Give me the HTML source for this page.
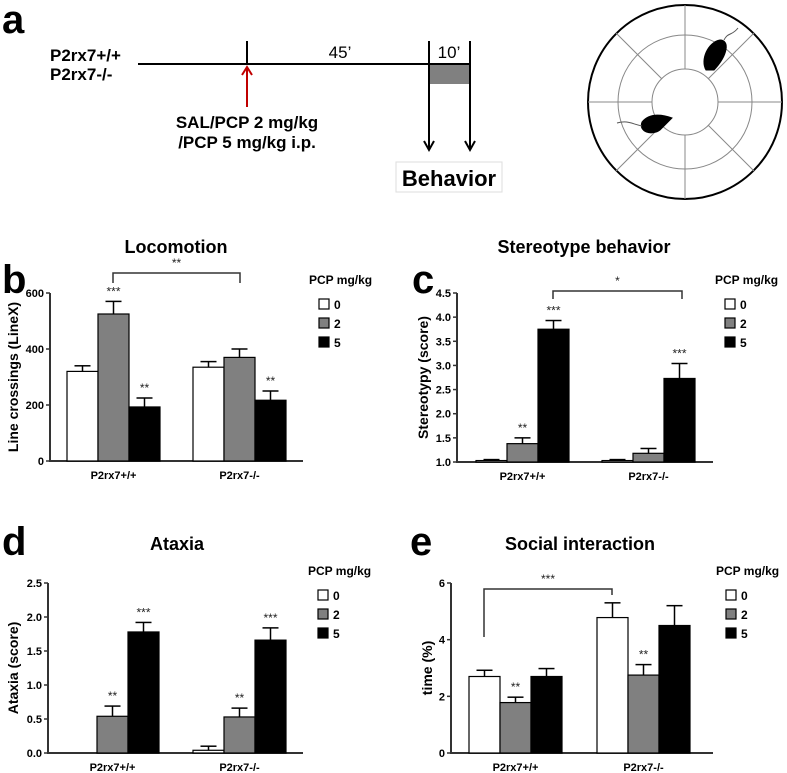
<!DOCTYPE html>
<html><head><meta charset="utf-8">
<style>
body{margin:0;background:#fff;}
svg{display:block;font-family:"Liberation Sans",Arial,sans-serif;}
</style></head>
<body>
<svg id="fig" width="787" height="773" viewBox="0 0 787 773" xmlns="http://www.w3.org/2000/svg">
<!-- Panel a -->
<g>
<text x="2" y="33" font-size="40" font-weight="bold">a</text>
<text x="50" y="61" font-size="17" font-weight="bold">P2rx7+/+</text>
<text x="50" y="80" font-size="17" font-weight="bold">P2rx7-/-</text>
<line x1="138" y1="64" x2="471" y2="64" stroke="#000" stroke-width="2"/>
<line x1="247" y1="41" x2="247" y2="64" stroke="#000" stroke-width="2"/>
<text x="340" y="58" font-size="17" text-anchor="middle">45’</text>
<rect x="429" y="65" width="41" height="19" fill="#808080"/>
<text x="449" y="58" font-size="17" text-anchor="middle">10’</text>
<line x1="429" y1="41" x2="429" y2="150" stroke="#000" stroke-width="2"/>
<path d="M424,141 L429,150 L434,141" fill="none" stroke="#000" stroke-width="2"/>
<line x1="470" y1="41" x2="470" y2="150" stroke="#000" stroke-width="2"/>
<path d="M465,141 L470,150 L475,141" fill="none" stroke="#000" stroke-width="2"/>
<line x1="247" y1="107" x2="247" y2="68" stroke="#c00000" stroke-width="2"/>
<path d="M242,75 L247,67 L252,75" fill="none" stroke="#c00000" stroke-width="2"/>
<text x="247" y="128" font-size="17" font-weight="bold" text-anchor="middle">SAL/PCP 2 mg/kg</text>
<text x="247" y="148" font-size="17" font-weight="bold" text-anchor="middle">/PCP 5 mg/kg i.p.</text>
<rect x="396" y="162" width="106" height="30" fill="#fff" stroke="#ddd"/>
<text x="449" y="186" font-size="22" font-weight="bold" text-anchor="middle">Behavior</text>
</g>
<g fill="none" stroke="#888" stroke-width="1">
<circle cx="685" cy="102" r="97" stroke="#000" stroke-width="2"/>
<circle cx="685" cy="102" r="67"/>
<circle cx="685" cy="102" r="33"/>
<line x1="685" y1="5" x2="685" y2="69"/><line x1="685" y1="135" x2="685" y2="199"/>
<line x1="588" y1="102" x2="652" y2="102"/><line x1="718" y1="102" x2="782" y2="102"/>
<line x1="708" y1="79" x2="754" y2="33"/><line x1="662" y1="79" x2="616" y2="33"/>
<line x1="708" y1="125" x2="754" y2="171"/><line x1="662" y1="125" x2="616" y2="171"/>
<path d="M706,70 C700,60 708,42 720,40 C730,40 728,55 714,70 Z" fill="#000" stroke="#000"/>
<path d="M724,40 C728,32 732,36 738,28" stroke="#555"/>
<path d="M672,118 C664,115 650,112 642,122 C638,132 652,136 660,130 Z" fill="#000" stroke="#000"/>
<path d="M642,126 C632,124 628,120 617,123" stroke="#555"/>
</g>
<g id="charts"></g>
</svg>
<script>
// Panel b: Locomotion
const groups = ["P2rx7+/+", "P2rx7-/-"];
const doses = ["0", "2", "5"];
const locoMean = [[320, 525, 193], [335, 370, 217]];
const locoErr = [[20, 45, 32], [20, 30, 33]];
const locoTicks = [0, 200, 400, 600];
const locoStars = [["", "***", "**"], ["", "", "**"]];
// Panel c: Stereotypy
const stereoMean = [[1.03, 1.38, 3.75], [1.03, 1.18, 2.73]];
const stereoErr = [[0.02, 0.12, 0.18], [0.02, 0.1, 0.31]];
const stereoTicks = [1.0, 1.5, 2.0, 2.5, 3.0, 3.5, 4.0, 4.5];
const stereoStars = [["", "**", "***"], ["", "", "***"]];
// Panel d: Ataxia
const ataxMean = [[0, 0.54, 1.78], [0.04, 0.53, 1.66]];
const ataxErr = [[0, 0.15, 0.14], [0.06, 0.13, 0.18]];
const ataxTicks = [0.0, 0.5, 1.0, 1.5, 2.0, 2.5];
const ataxStars = [["", "**", "***"], ["", "**", "***"]];
// Panel e: Social interaction
const socMean = [[2.7, 1.78, 2.7], [4.78, 2.75, 4.5]];
const socErr = [[0.22, 0.19, 0.28], [0.52, 0.37, 0.7]];
const socTicks = [0, 2, 4, 6];
const socStars = [["", "**", ""], ["", "**", ""]];

const NS = "http://www.w3.org/2000/svg";
const root = document.getElementById("charts");
const fills = ["#ffffff", "#808080", "#000000"];
function mk(tag, attrs, parent) {
  const e = document.createElementNS(NS, tag);
  for (const k in attrs) e.setAttribute(k, attrs[k]);
  (parent || root).appendChild(e);
  return e;
}
function chart(c, mean, err, ticks, stars) {
  const g = mk("g", {});
  
  
  const y = v => c.y0 - (v - c.vmin) / (c.vmax - c.vmin) * (c.y0 - c.y1);
  const lbl = mk("text", {x: c.lx, y: c.ly, "font-size": 40, "font-weight": "bold"}, g);
  lbl.textContent = c.letter;
  
  
  const t = mk("text", {x: c.tx, y: c.ty, "font-size": 18, "font-weight": "bold", "text-anchor": "middle"}, g);
  t.textContent = c.title;
  
  
  mk("line", {x1: c.ax, y1: c.y1, x2: c.ax, y2: c.y0 + 1, stroke: "#333", "stroke-width": 2}, g);
  mk("line", {x1: c.ax, y1: c.y0, x2: c.axEnd, y2: c.y0, stroke: "#333", "stroke-width": 2}, g);
  ticks.forEach(v => {
    mk("line", {x1: c.ax - 4, y1: y(v), x2: c.ax, y2: y(v), stroke: "#333", "stroke-width": 1.5}, g);
    const tl = mk("text", {x: c.ax - 6, y: y(v) + 4, "font-size": 11, "font-weight": "bold", "text-anchor": "end"}, g);
    tl.textContent = c.dec ? v.toFixed(1) : String(v);
    
    
  });
  const yl = mk("text", {transform: `translate(${c.ylx},${(c.y0 + c.y1) / 2}) rotate(-90)`, "font-size": 14, "font-weight": "bold", "text-anchor": "middle"}, g);
  yl.textContent = c.ylabel;
  
  
  groups.forEach((gname, gi) => {
    const gx = c.gx[gi];
    const xl = mk("text", {x: gx + 1.5 * c.bw, y: c.y0 + 18, "font-size": 11, "font-weight": "bold", "text-anchor": "middle"}, g);
    xl.textContent = gname;
    
    
    doses.forEach((d, di) => {
      const v = mean[gi][di], e = err[gi][di];
      const bx = gx + di * c.bw;
      if (v > c.vmin) {
        const r = mk("rect", {x: bx, y: y(v), width: c.bw, height: c.y0 - y(v), fill: fills[di], stroke: "#000", "stroke-width": 1.2}, g);
        
        
      }
      if (e > 0) {
        const cx = bx + c.bw / 2;
        mk("line", {x1: cx, y1: y(v), x2: cx, y2: y(v + e), stroke: "#000", "stroke-width": 1.5}, g);
        mk("line", {x1: cx - 8, y1: y(v + e), x2: cx + 8, y2: y(v + e), stroke: "#000", "stroke-width": 1.5}, g);
      }
      if (stars[gi][di]) {
        const s = mk("text", {x: bx + c.bw / 2, y: y(v + e) - 6, "font-size": 12, "text-anchor": "middle", fill: "#222"}, g);
        s.textContent = stars[gi][di];
        
        
      }
    });
  });
  const b = c.br;
  if (b.s) {
    mk("path", {d: `M${b.x1},${b.yl} L${b.x1},${b.y} L${b.x2},${b.y} L${b.x2},${b.yr}`, fill: "none", stroke: "#333", "stroke-width": 1.5}, g);
    const bs = mk("text", {x: (b.x1 + b.x2) / 2, y: b.y - 6, "font-size": 12, "text-anchor": "middle", fill: "#222"}, g);
    bs.textContent = b.s;
    
    
  }
  const lt = mk("text", {x: c.legx, y: c.legy, "font-size": 12, "font-weight": "bold"}, g);
  lt.textContent = "PCP mg/kg";
  
  
  doses.forEach((d, di) => {
    const yy = c.legy + 15 + di * 19;
    mk("rect", {x: c.legx + 10, y: yy, width: 10, height: 10, fill: fills[di], stroke: "#000", "stroke-width": 1.2}, g);
    const le = mk("text", {x: c.legx + 25, y: yy + 10, "font-size": 12, "font-weight": "bold"}, g);
    le.textContent = d;
    
    
  });
}
chart({name: "locomotion-chart", letter: "b", lx: 2, ly: 293, title: "Locomotion", tx: 176, ty: 253,
  ax: 50, axEnd: 303, y0: 461, y1: 293, vmin: 0, vmax: 600, dec: false, gx: [67, 193], bw: 31,
  ylabel: "Line crossings (LineX)", ylx: 18, legx: 309, legy: 284,
  br: {x1: 113, x2: 240, y: 273, yl: 283, yr: 283, s: "**"}}, locoMean, locoErr, locoTicks, locoStars);
chart({name: "stereotypy-chart", letter: "c", lx: 412, ly: 293, title: "Stereotype behavior", tx: 584, ty: 253,
  ax: 457, axEnd: 713, y0: 462, y1: 293, vmin: 1.0, vmax: 4.5, dec: true, gx: [476, 602], bw: 31,
  ylabel: "Stereotypy (score)", ylx: 428, legx: 715, legy: 284,
  br: {x1: 553, x2: 682, y: 291, yl: 299, yr: 299, s: "*"}}, stereoMean, stereoErr, stereoTicks, stereoStars);
chart({name: "ataxia-chart", letter: "d", lx: 2, ly: 555, title: "Ataxia", tx: 177, ty: 550,
  ax: 48, axEnd: 303, y0: 753, y1: 583, vmin: 0, vmax: 2.5, dec: true, gx: [66, 193], bw: 31,
  ylabel: "Ataxia (score)", ylx: 18, legx: 308, legy: 575,
  br: {x1: 0, x2: 0, y: 0, yl: 0, yr: 0, s: ""}}, ataxMean, ataxErr, ataxTicks, ataxStars);
chart({name: "social-interaction-chart", letter: "e", lx: 410, ly: 555, title: "Social interaction", tx: 580, ty: 550,
  ax: 451, axEnd: 713, y0: 753, y1: 583, vmin: 0, vmax: 6, dec: false, gx: [469, 597], bw: 31,
  ylabel: "time (%)", ylx: 432, legx: 716, legy: 575,
  br: {x1: 484, x2: 612, y: 589, yl: 637, yr: 595, s: "***"}}, socMean, socErr, socTicks, socStars);
</script>
</body></html>
